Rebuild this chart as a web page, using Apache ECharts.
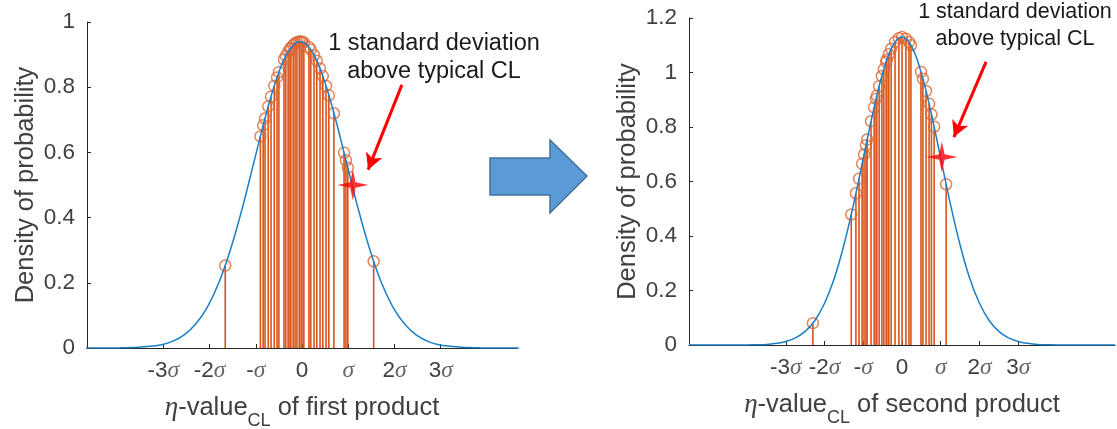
<!DOCTYPE html>
<html>
<head>
<meta charset="utf-8">
<script src="https://cdn.jsdelivr.net/npm/echarts@6/dist/echarts.min.js"></script>
<style>
  html, body { margin: 0; padding: 0; background: #fff; }
  #chart { width: 1117px; height: 429px; }
</style>
</head>
<body>
<div id="chart"></div>
<script>
// Tick positions (in units of sigma) and their labels
const xTickValues = [-3, -2, -1, 0, 1, 2, 3];
const xTickLabels = ['-3σ', '-2σ', '-σ', '0', 'σ', '2σ', '3σ'];

// Density curve of the first product
const curveLeftX = [-5.54, -5.29, -5.04, -4.79, -4.54, -4.29, -4.04, -3.79, -3.54, -3.29, -3.04,
  -2.79, -2.54, -2.29, -2.04, -1.79, -1.54, -1.29, -1.04, -0.79, -0.54, -0.29, -0.04,
  0.21, 0.46, 0.71, 0.96, 1.21, 1.46, 1.71, 1.96, 2.21, 2.46, 2.71, 2.96, 3.21, 3.46,
  3.71, 3.96, 4.21, 4.46, 4.71, 4.96, 5.21, 5.46];
const curveLeftY = [0, 0, 0, 0, 0, 0, 0, 0.001, 0.002, 0.005, 0.010,
  0.021, 0.041, 0.075, 0.127, 0.203, 0.305, 0.430, 0.570, 0.710, 0.830, 0.911, 0.940,
  0.911, 0.830, 0.710, 0.570, 0.430, 0.305, 0.203, 0.127, 0.075, 0.041, 0.021, 0.010, 0.005, 0.002,
  0.001, 0, 0, 0, 0, 0, 0, 0];

// Density curve of the second product
const curveRightX = [-5.5, -5.25, -5, -4.75, -4.5, -4.25, -4, -3.75, -3.5, -3.25, -3,
  -2.75, -2.5, -2.25, -2, -1.75, -1.5, -1.25, -1, -0.75, -0.5, -0.25, 0,
  0.25, 0.5, 0.75, 1, 1.25, 1.5, 1.75, 2, 2.25, 2.5, 2.75, 3, 3.25, 3.5,
  3.75, 4, 4.25, 4.5, 4.75, 5, 5.25, 5.5];
const curveRightY = [0, 0, 0, 0, 0, 0, 0, 0.001, 0.002, 0.006, 0.013,
  0.026, 0.050, 0.090, 0.153, 0.244, 0.367, 0.517, 0.685, 0.853, 0.997, 1.095, 1.130,
  1.095, 0.997, 0.853, 0.685, 0.517, 0.367, 0.244, 0.153, 0.090, 0.050, 0.026, 0.013, 0.006, 0.002,
  0.001, 0, 0, 0, 0, 0, 0, 0];

// Individual eta-values (stems) of the first product
const stemLeftX = [-1.66, -0.90, -0.84, -0.80, -0.73, -0.67, -0.60, -0.54, -0.50, -0.39, -0.35,
  -0.30, -0.26, -0.24, -0.19, -0.15, -0.11, -0.06, -0.02, 0.00, 0.04, 0.15, 0.19, 0.26,
  0.32, 0.39, 0.45, 0.52, 0.58, 0.69, 0.91, 0.95, 0.99, 1.55];
const stemLeftY = [0.253, 0.649, 0.683, 0.704, 0.741, 0.771, 0.804, 0.830, 0.846, 0.885, 0.896,
  0.909, 0.917, 0.921, 0.929, 0.934, 0.938, 0.940, 0.940, 0.939, 0.937, 0.923, 0.915, 0.898,
  0.881, 0.857, 0.834, 0.804, 0.775, 0.720, 0.599, 0.576, 0.553, 0.266];

// Individual eta-values (stems) of the second product
const stemRightX = [-2.30, -1.31, -1.19, -1.11, -1.03, -0.98, -0.93, -0.90, -0.80, -0.72, -0.67,
  -0.65, -0.59, -0.52, -0.47, -0.41, -0.39, -0.34, -0.28, -0.18, -0.08, 0.00, 0.10, 0.18,
  0.23, 0.49, 0.54, 0.62, 0.70, 0.76, 0.83, 1.14];
const stemRightY = [0.080, 0.479, 0.557, 0.610, 0.665, 0.699, 0.733, 0.754, 0.821, 0.872, 0.903,
  0.915, 0.950, 0.987, 1.012, 1.039, 1.047, 1.067, 1.087, 1.112, 1.126, 1.130, 1.124, 1.112,
  1.100, 1.002, 0.977, 0.932, 0.885, 0.846, 0.801, 0.590];

// "1 standard deviation above typical CL" markers and arrows pointing at them
const starLeft = [1.1, 0.50];
const starRight = [1.03, 0.69];
const arrowLeft = [[2.16, 0.807], [1.43, 0.547]];
const arrowRight = [[2.17, 1.039], [1.34, 0.763]];

const zip = (xs, ys) => xs.map((x, i) => [x, ys[i]]);

const ORANGE = '#D95319';
const AXIS = '#262626';
const TXT = '#404040';
const SANS = 'Liberation Sans, Arial, sans-serif';
const SERIF = 'Liberation Serif, Times New Roman, serif';
const STAR = 'path://M0,-15 L2.6,-2.6 L15,0 L2.6,2.6 L0,15 L-2.6,2.6 L-15,0 L-2.6,-2.6 Z';

function xAxisFor(gridIndex, min, max, title) {
  return {
    type: 'value', gridIndex, min, max,
    axisLine: { onZero: false, lineStyle: { color: AXIS, width: 1 } },
    axisTick: { inside: true, length: 4, customValues: xTickValues, lineStyle: { color: AXIS } },
    splitLine: { show: false },
    axisLabel: {
      customValues: xTickValues,
      margin: 11,
      formatter: v => {
        const s = xTickLabels[xTickValues.indexOf(v)];
        if (s === undefined) return '';
        if (s.endsWith('σ')) {
          const n = s.slice(0, -1);
          return (n ? '{n|' + n + '}' : '') + '{s|σ}';
        }
        return '{n|' + s + '}';
      },
      rich: {
        n: { fontFamily: SANS, fontSize: 22.5, color: TXT },
        s: { fontFamily: SERIF, fontStyle: 'italic', fontSize: 23.5, color: '#666' }
      }
    },
    name: '{e|η}{t|-value}{c|CL}{t| of ' + title + '}',
    nameLocation: 'middle',
    nameGap: 28,
    nameTextStyle: {
      rich: {
        e: { fontFamily: SERIF, fontStyle: 'italic', fontSize: 27, color: TXT, lineHeight: 30 },
        t: { fontFamily: SANS, fontSize: 25.5, color: TXT, lineHeight: 30 },
        c: { fontFamily: SANS, fontSize: 18, color: TXT, lineHeight: 18, padding: [25, 0, 0, 0] }
      }
    }
  };
}

function yAxisFor(gridIndex, max) {
  return {
    type: 'value', gridIndex, min: 0, max, interval: 0.2,
    axisLine: { show: true, onZero: false, lineStyle: { color: AXIS, width: 1 } },
    axisTick: { show: true, inside: true, length: 4, lineStyle: { color: AXIS } },
    splitLine: { show: false },
    axisLabel: {
      margin: 12, fontFamily: SANS, fontSize: 22.5, color: TXT,
      formatter: v => String(Math.round(v * 10) / 10)
    },
    name: 'Density of probability',
    nameLocation: 'middle',
    nameGap: 48,
    nameTextStyle: { fontFamily: SANS, fontSize: 25.5, color: TXT }
  };
}

function stemSeries(idx, xs, ys) {
  return {
    type: 'custom', xAxisIndex: idx, yAxisIndex: idx, silent: true, z: 2,
    data: zip(xs, ys),
    renderItem: (params, api) => {
      const x = api.value(0), y = api.value(1);
      const p0 = api.coord([x, 0]);
      const p1 = api.coord([x, y]);
      return {
        type: 'line',
        shape: { x1: p0[0], y1: p0[1], x2: p1[0], y2: p1[1] },
        style: { stroke: ORANGE, lineWidth: 1.6 }
      };
    }
  };
}

function circleSeries(idx, xs, ys) {
  return {
    type: 'scatter', xAxisIndex: idx, yAxisIndex: idx, silent: true, z: 3,
    data: zip(xs, ys),
    symbol: 'circle', symbolSize: 11,
    itemStyle: { color: 'rgba(0,0,0,0)', borderColor: '#DD6633', borderWidth: 1.5 }
  };
}

function curveSeries(idx, xs, ys, arrow) {
  return {
    type: 'line', xAxisIndex: idx, yAxisIndex: idx, silent: true, z: 4,
    data: zip(xs, ys),
    smooth: 0.4, showSymbol: false, symbol: 'none',
    lineStyle: { color: '#1A7FC6', width: 1.5 },
    markLine: {
      silent: true,
      symbol: ['none', 'arrow'],
      symbolSize: [13, 16],
      label: { show: false },
      lineStyle: { color: '#FF0000', width: 3, type: 'solid' },
      data: [[{ coord: arrow[0] }, { coord: arrow[1] }]],
      animation: false
    }
  };
}

function starSeries(idx, pt) {
  return {
    type: 'scatter', xAxisIndex: idx, yAxisIndex: idx, silent: true, z: 5,
    data: [pt], symbol: STAR, symbolSize: 31,
    itemStyle: { color: '#FF0000' }
  };
}

const chart = echarts.init(document.getElementById('chart'), null, { renderer: 'canvas' });
chart.setOption({
  animation: false,
  backgroundColor: '#fff',
  textStyle: { fontFamily: SANS },
  grid: [
    { left: 87, top: 22, width: 430, height: 326, containLabel: false, outerBoundsMode: 'none' },
    { left: 689, top: 18, width: 426, height: 327, containLabel: false, outerBoundsMode: 'none' }
  ],
  xAxis: [
    xAxisFor(0, -4.65, 4.65, 'first product'),
    xAxisFor(1, -5.5, 5.5, 'second product')
  ],
  yAxis: [yAxisFor(0, 1), yAxisFor(1, 1.2)],
  series: [
    stemSeries(0, stemLeftX, stemLeftY),
    circleSeries(0, stemLeftX, stemLeftY),
    curveSeries(0, curveLeftX, curveLeftY, arrowLeft),
    starSeries(0, starLeft),
    stemSeries(1, stemRightX, stemRightY),
    circleSeries(1, stemRightX, stemRightY),
    curveSeries(1, curveRightX, curveRightY, arrowRight),
    starSeries(1, starRight)
  ],
  graphic: [
    {
      type: 'polygon', silent: true, z: 10,
      shape: { points: [[490, 158], [550, 158], [550, 140], [587, 176], [550, 213], [550, 195], [490, 195]] },
      style: { fill: '#5B9BD5', stroke: '#41719C', lineWidth: 1.5 }
    },
    {
      type: 'text', silent: true, z: 10, x: 434, y: 57.5,
      style: {
        text: '1 standard deviation\nabove typical CL',
        align: 'center', verticalAlign: 'middle',
        fontFamily: SANS, fontSize: 23.5, lineHeight: 28, fill: '#1a1a1a'
      }
    },
    {
      type: 'text', silent: true, z: 10, x: 1015, y: 26,
      style: {
        text: '1 standard deviation\nabove typical CL',
        align: 'center', verticalAlign: 'middle',
        fontFamily: SANS, fontSize: 21.5, lineHeight: 27, fill: '#1a1a1a'
      }
    }
  ]
});
</script>
</body>
</html>
